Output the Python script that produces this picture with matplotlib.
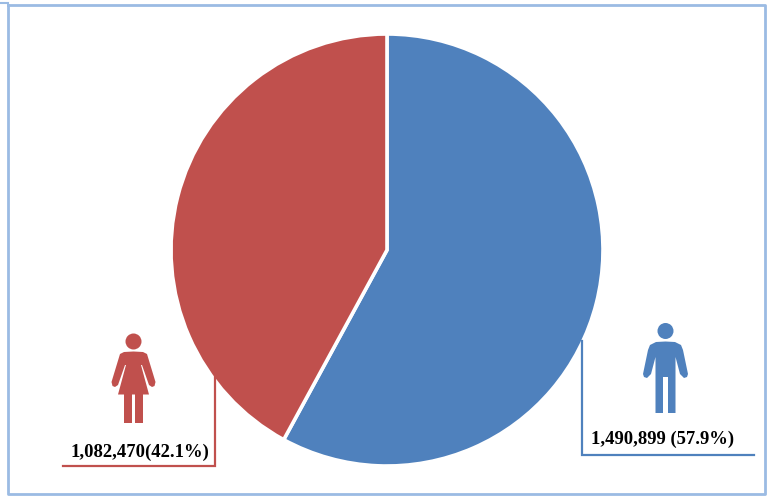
import matplotlib
matplotlib.use("Agg")
import matplotlib.pyplot as plt
from matplotlib.patches import Circle, Polygon

categories = ["Male", "Female"]
counts = [1490899, 1082470]
labels = ["1,490,899 (57.9%)", "1,082,470(42.1%)"]
colors = ["#4F81BD", "#C0504D"]
frame_color = "#9BBBE3"

W, H = 770, 497
fig = plt.figure(figsize=(W / 100, H / 100), dpi=100)

# overlay in pixel coords, y going down like the picture
bg = fig.add_axes([0, 0, 1, 1])
bg.set_xlim(0, W)
bg.set_ylim(H, 0)
bg.axis("off")

# outer frame
bg.plot([8, 765, 765, 8, 8], [4.5, 4.5, 494, 494, 4.5], color=frame_color, lw=2)
bg.plot([0, 8], [2.5, 2.5], color=frame_color, lw=1.5)

# pie
cx, cy, r = 387, 250, 216
pie_ax = fig.add_axes([(cx - r) / W, 1 - (cy + r) / H, 2 * r / W, 2 * r / H])
pie_ax.pie(counts, colors=colors, startangle=90, counterclock=False, radius=1,
           wedgeprops={"edgecolor": "white", "linewidth": 2.6})
pie_ax.set_xlim(-1, 1)
pie_ax.set_ylim(-1, 1)
pie_ax.patch.set_alpha(0)

# second layer for leader lines, icons and text
top = fig.add_axes([0, 0, 1, 1])
top.set_xlim(0, W)
top.set_ylim(H, 0)
top.axis("off")
top.patch.set_alpha(0)

top.plot([214.5, 214.5, 63], [376, 465.5, 465.5], color=colors[1], lw=1.6, solid_joinstyle="miter")
top.plot([582, 582, 754], [341, 455, 455], color=colors[0], lw=1.6, solid_joinstyle="miter")


def woman(ax, color):
    ax.add_patch(Circle((133.5, 341.5), 8, color=color, lw=0))
    left = [(133.5, 351.5), (124, 352), (120, 354), (111.5, 382), (112.5, 386), (115, 387),
            (118, 385), (125, 365), (126, 365), (118, 394.5), (124, 394.5), (124, 423),
            (132, 423), (132, 394.5), (133.5, 394.5)]
    right = [(267 - x, y) for x, y in reversed(left)]
    ax.add_patch(Polygon(left + right, closed=True, color=color, lw=0))


def man(ax, color):
    ax.add_patch(Circle((665.5, 331), 8, color=color, lw=0))
    left = [(665.5, 341.5), (656, 342), (650, 345), (648, 350), (643, 374), (644, 377),
            (647, 378), (651, 374), (655.5, 357), (655.5, 413), (663, 413), (663, 377),
            (665.5, 377)]
    right = [(1331 - x, y) for x, y in reversed(left)]
    ax.add_patch(Polygon(left + right, closed=True, color=color, lw=0))


woman(top, colors[1])
man(top, colors[0])

font = {"family": "Liberation Serif", "weight": "bold", "size": 13.4, "color": "black"}
top.text(140, 452.5, labels[1], ha="center", va="center", **font)
top.text(663, 439, labels[0], ha="center", va="center", **font)

fig.savefig("out.png", dpi=100)
